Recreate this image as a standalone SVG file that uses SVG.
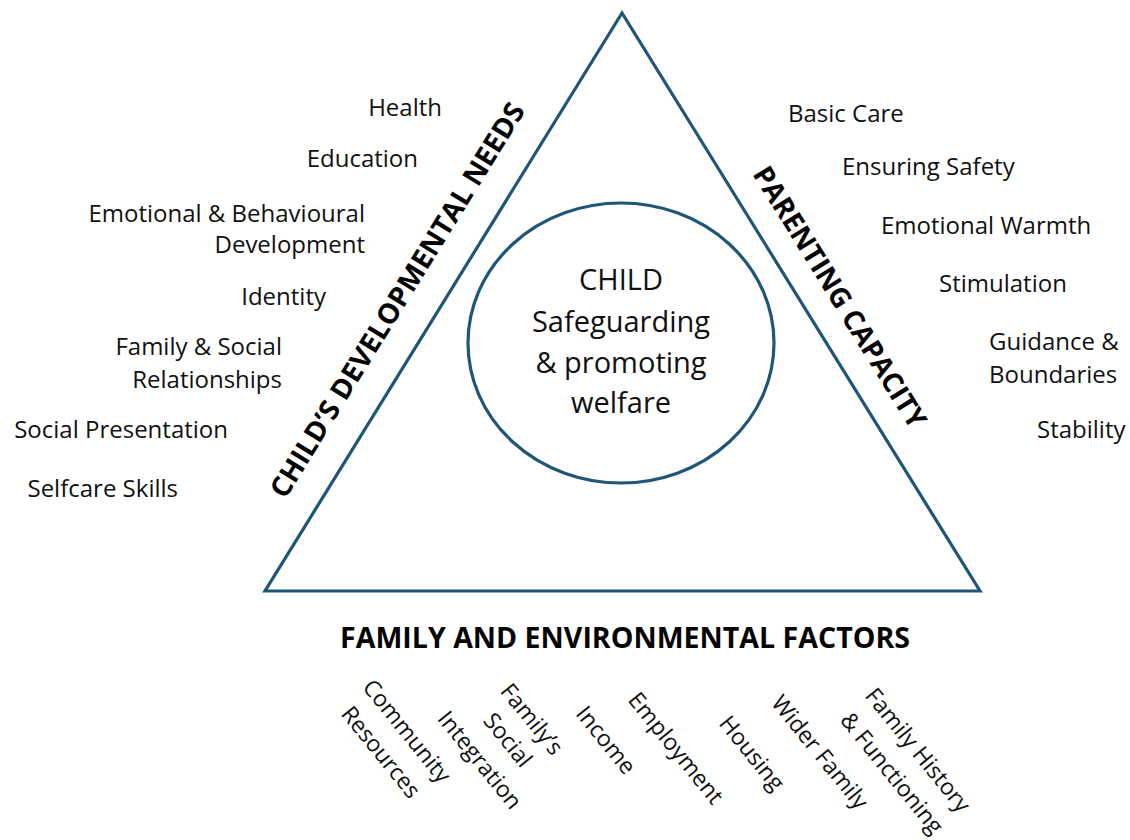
<svg xmlns="http://www.w3.org/2000/svg" width="1130" height="840" viewBox="0 0 1130 840">
<style>
.t{font-family:"Open Sans","Liberation Sans",sans-serif;font-size:24px;fill:#111111}
.b{font-size:23px}
.c{font-family:"Open Sans","Liberation Sans",sans-serif;font-size:29px;fill:#111111;text-anchor:middle}
.h{font-family:"Open Sans","Liberation Sans",sans-serif;font-size:28px;font-weight:bold;fill:#050505;text-anchor:middle}
.e{text-anchor:end}
.m{text-anchor:middle}
.shape{fill:none;stroke:#1f5577;stroke-width:3.2}
</style>
<rect width="1130" height="840" fill="#ffffff"/>
<g id="triangle"><polygon class="shape" points="622,13 265,591 980,591" stroke-linejoin="miter"/></g>
<g id="child">
<ellipse class="shape" cx="621" cy="343" rx="153" ry="140"/>
<text class="c" x="621" y="290">CHILD</text>
<text class="c" x="621" y="332">Safeguarding</text>
<text class="c" x="621" y="373">&amp; promoting</text>
<text class="c" x="621" y="413">welfare</text>
</g>
<g id="developmental-needs">
<text class="h" transform="translate(397,300) rotate(-58.3)" y="10" textLength="458" lengthAdjust="spacingAndGlyphs">CHILD’S DEVELOPMENTAL NEEDS</text>
<text class="t e" x="442" y="116">Health</text>
<text class="t e" x="418" y="167">Education</text>
<text class="t e" x="365" y="222">Emotional &amp; Behavioural</text>
<text class="t e" x="365" y="253">Development</text>
<text class="t e" x="326" y="305">Identity</text>
<text class="t e" x="282" y="355">Family &amp; Social</text>
<text class="t e" x="282" y="388">Relationships</text>
<text class="t e" x="228" y="438">Social Presentation</text>
<text class="t e" x="178" y="497">Selfcare Skills</text>
</g>
<g id="parenting-capacity">
<text class="h" transform="translate(840,297) rotate(58.2)" y="10" textLength="302" lengthAdjust="spacingAndGlyphs">PARENTING CAPACITY</text>
<text class="t" x="788" y="122">Basic Care</text>
<text class="t" x="842" y="175">Ensuring Safety</text>
<text class="t" x="881" y="234">Emotional Warmth</text>
<text class="t" x="939" y="292">Stimulation</text>
<text class="t" x="989" y="350">Guidance &amp;</text>
<text class="t" x="989" y="383">Boundaries</text>
<text class="t" x="1037" y="438">Stability</text>
</g>
<g id="family-environment">
<text class="h" x="625" y="648" textLength="570" lengthAdjust="spacingAndGlyphs">FAMILY AND ENVIRONMENTAL FACTORS</text>
<text class="t b m" transform="translate(407,731) rotate(51)" y="8">Community</text>
<text class="t b m" transform="translate(381,752) rotate(51)" y="8">Resources</text>
<text class="t b m" transform="translate(480,760) rotate(51)" y="8">Integration</text>
<text class="t b m" transform="translate(532,719) rotate(51)" y="8">Family’s</text>
<text class="t b m" transform="translate(508,740) rotate(51)" y="8">Social</text>
<text class="t b m" transform="translate(606,740) rotate(51)" y="8">Income</text>
<text class="t b m" transform="translate(676,748) rotate(51)" y="8">Employment</text>
<text class="t b m" transform="translate(752,753) rotate(51)" y="8">Housing</text>
<text class="t b m" transform="translate(820,752) rotate(51)" y="8">Wider Family</text>
<text class="t b m" transform="translate(918,750) rotate(51)" y="8">Family History</text>
<text class="t b m" transform="translate(892,773) rotate(51)" y="8">&amp; Functioning</text>
</g>
<g id="connectors"></g>
</svg>
